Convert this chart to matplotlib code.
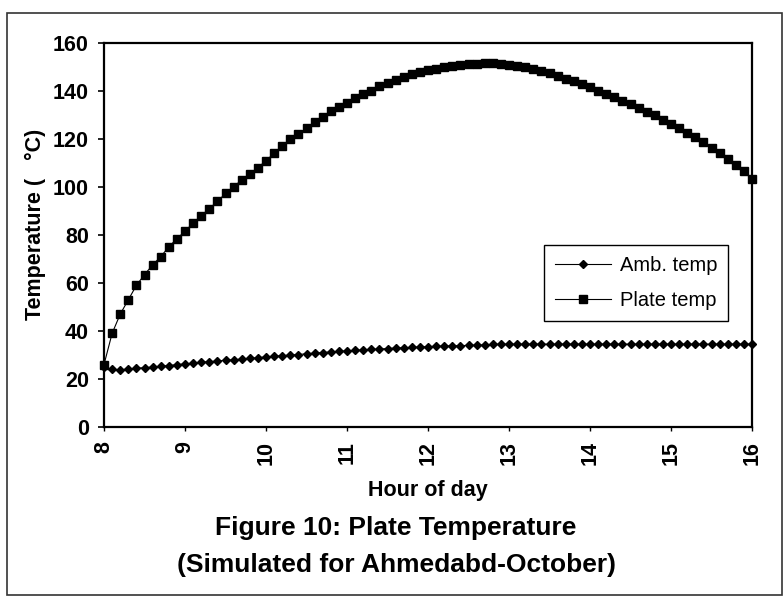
import numpy as np
import matplotlib
matplotlib.use("Agg")
import matplotlib.pyplot as plt
from matplotlib.patches import Rectangle

plt.rcParams['font.family'] = ['Liberation Sans', 'DejaVu Sans']

hours = [8.0, 8.1, 8.2, 8.3, 8.4, 8.5, 8.6, 8.7, 8.8, 8.9,
         9.0, 9.1, 9.2, 9.3, 9.4, 9.5, 9.6, 9.7, 9.8, 9.9,
         10.0, 10.1, 10.2, 10.3, 10.4, 10.5, 10.6, 10.7, 10.8, 10.9,
         11.0, 11.1, 11.2, 11.3, 11.4, 11.5, 11.6, 11.7, 11.8, 11.9,
         12.0, 12.1, 12.2, 12.3, 12.4, 12.5, 12.6, 12.7, 12.8, 12.9,
         13.0, 13.1, 13.2, 13.3, 13.4, 13.5, 13.6, 13.7, 13.8, 13.9,
         14.0, 14.1, 14.2, 14.3, 14.4, 14.5, 14.6, 14.7, 14.8, 14.9,
         15.0, 15.1, 15.2, 15.3, 15.4, 15.5, 15.6, 15.7, 15.8, 15.9,
         16.0]

amb_temp = [25.0, 24.0, 23.8, 24.2, 24.5, 24.7, 25.0, 25.3, 25.6, 26.0,
            26.3, 26.6, 27.0, 27.2, 27.5, 27.8, 28.0, 28.3, 28.6, 28.9,
            29.2, 29.5, 29.7, 30.0, 30.2, 30.5, 30.8, 31.0, 31.3, 31.5,
            31.7, 31.9, 32.1, 32.3, 32.5, 32.7, 32.9, 33.0, 33.2, 33.3,
            33.5, 33.6, 33.7, 33.8, 33.9, 34.0, 34.1, 34.2, 34.4, 34.5,
            34.5, 34.5, 34.5, 34.5, 34.5, 34.5, 34.5, 34.5, 34.5, 34.5,
            34.5, 34.5, 34.5, 34.5, 34.5, 34.5, 34.5, 34.5, 34.5, 34.5,
            34.5, 34.5, 34.5, 34.5, 34.5, 34.5, 34.5, 34.5, 34.5, 34.5,
            34.5]

plate_temp = [26.0, 39.0, 47.0, 53.0, 59.0, 63.5, 67.5, 71.0, 75.0, 78.5,
              81.5, 85.0, 88.0, 91.0, 94.0, 97.3, 100.0, 103.0, 105.5, 108.0,
              111.0, 114.0, 117.0, 120.0, 122.0, 124.5, 127.0, 129.3, 131.5, 133.3,
              135.2, 137.0, 138.7, 140.2, 141.9, 143.5, 144.7, 145.9, 146.9, 147.8,
              148.6, 149.2, 149.9, 150.4, 150.8, 151.2, 151.4, 151.5, 151.5, 151.4,
              151.0, 150.4, 149.8, 149.0, 148.2, 147.3, 146.3, 145.2, 144.0, 142.8,
              141.5, 140.1, 138.7, 137.3, 135.9, 134.5, 133.0, 131.4, 129.8, 128.1,
              126.4, 124.6, 122.7, 120.7, 118.6, 116.4, 114.0, 111.8, 109.3, 106.5,
              103.5]

x_ticks = [8, 9, 10, 11, 12, 13, 14, 15, 16]
y_ticks = [0, 20, 40, 60, 80, 100, 120, 140, 160]

W, H = 783, 597
fig = plt.figure(figsize=(W / 100, H / 100), dpi=100)
fig.patch.set_facecolor('white')

# outer frame
fig.patches.append(Rectangle((7 / W, 1 - 595 / H), 775 / W, 582 / H,
                             transform=fig.transFigure, fill=False,
                             edgecolor='#333333', linewidth=1.2))

ax = fig.add_axes([104 / W, 1 - 427 / H, (752 - 104) / W, (427 - 43) / H])

ax.plot(hours, amb_temp, color='black', linewidth=0.8, marker='D',
        markersize=4.0, markerfacecolor='black', markeredgecolor='black',
        clip_on=False, label='Amb. temp', zorder=3)
ax.plot(hours, plate_temp, color='black', linewidth=0.8, marker='s',
        markersize=6.0, markerfacecolor='black', markeredgecolor='black',
        clip_on=False, label='Plate temp', zorder=4)

ax.set_xlim(8, 16)
ax.set_ylim(0, 160)
ax.set_xticks(x_ticks)
ax.set_yticks(y_ticks)
ax.set_xticklabels([str(v) for v in x_ticks], rotation=90,
                   fontsize=15.5, fontweight='bold')
ax.set_yticklabels([str(v) for v in y_ticks], fontsize=15.5, fontweight='bold')
ax.tick_params(axis='y', direction='out', length=4.3, width=1.2, pad=6.5)
ax.tick_params(axis='x', direction='out', length=3, width=1.0, pad=7)

for s in ax.spines.values():
    s.set_linewidth(1.6)
    s.set_color('black')

ax.set_xlabel('Hour of day', fontsize=15.5, fontweight='bold', labelpad=11)
fig.text(35 / W, 1 - 224 / H, 'Temperature (   °C)', rotation=90,
         fontsize=15.5, fontweight='bold', ha='center', va='center')

fig.text(396 / W, 1 - 528 / H, 'Figure 10: Plate Temperature',
         fontsize=19, fontweight='bold', ha='center', va='center')
fig.text(396 / W, 1 - 565 / H, '(Simulated for Ahmedabd-October)',
         fontsize=19, fontweight='bold', ha='center', va='center')

leg = ax.legend(loc='upper left', bbox_to_anchor=(544 / W, 1 - 245 / H),
                bbox_transform=fig.transFigure, borderaxespad=0,
                fontsize=14.5, frameon=True, fancybox=False, shadow=False,
                handlelength=2.8, handletextpad=0.4, labelspacing=0.8,
                borderpad=0.55, markerscale=1.0)
leg.get_frame().set_edgecolor('black')
leg.get_frame().set_linewidth(1.0)
leg.get_frame().set_facecolor('white')
leg.get_frame().set_alpha(1)

fig.savefig('out.png', dpi=100, facecolor='white')
